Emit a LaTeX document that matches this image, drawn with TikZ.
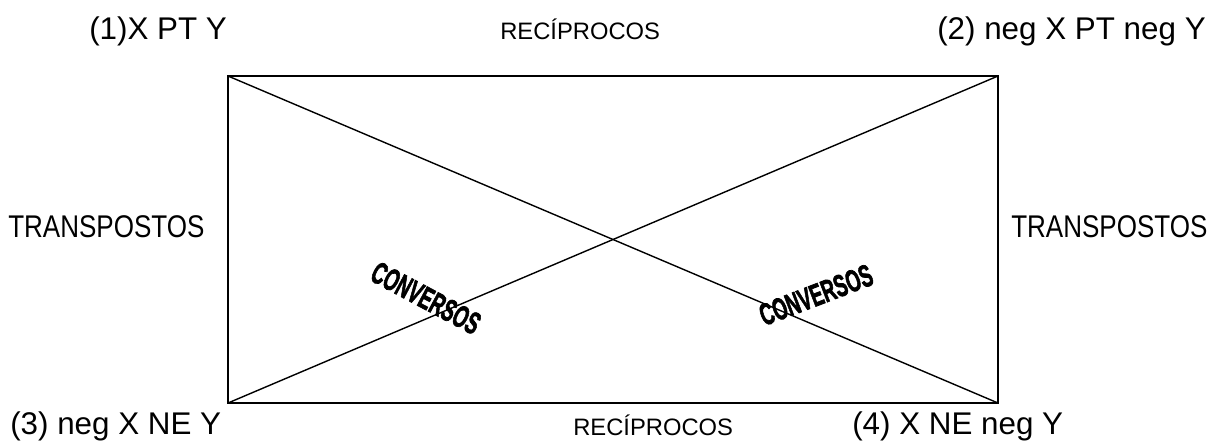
\documentclass[tikz,border=0pt]{standalone}
\usepackage{fontspec}
\setmainfont{Liberation Sans}
\newfontfamily\convfont[BoldFeatures={FakeBold=2.5}]{Liberation Sans}
\usepackage{tikz}
\usetikzlibrary{calc}
\tikzset{
  lbl/.style={anchor=base west, inner sep=0pt, font=\fontsize{22.3}{26}\selectfont},
  rec/.style={anchor=base west, inner sep=0pt, font=\fontsize{16.9}{20}\selectfont},
  conv/.style={inner sep=0pt, font=\fontsize{22}{24}\selectfont\convfont\bfseries},
  edg/.style={line width=1pt, black},
}

\begin{document}
\begin{tikzpicture}[x=0.025cm, y=-0.025cm]
  \useasboundingbox (0,0) rectangle (1225,442);
  % corners of the square
  \coordinate (p1) at (228,76);
  \coordinate (p2) at (998,76);
  \coordinate (p3) at (228,403);
  \coordinate (p4) at (998,403);
  \draw[edg] (p1) -- (p2) -- (p4) -- (p3) -- cycle;
  \draw[edg] (p1) -- (p4);
  \draw[edg] (p3) -- (p2);

  \node[lbl] (xpty) at (89,39) {(1)X PT Y};
  \node[lbl] (negpt) at (937,39) {(2) neg X PT neg Y};
  \node[lbl] (negne) at (10,434) {(3) neg X NE Y};
  \node[lbl] (xneneg) at (852,434) {(4) X NE neg Y};
  \node[rec] (rectop) at (500,39) {RECÍPROCOS};
  \node[rec] (recbot) at (573,435) {RECÍPROCOS};
  \node[lbl] (trleft) at (8,237) {\scalebox{0.83}[1]{TRANSPOSTOS}};
  \node[lbl] (trright) at (1011,237) {\scalebox{0.83}[1]{TRANSPOSTOS}};

  \node[conv, rotate=-28] (convl) at (426,298) {\scalebox{0.6}[1]{CONVERSOS}};
  \node[conv, rotate=21] (convr) at (816,295) {\scalebox{0.6}[1]{CONVERSOS}};
\end{tikzpicture}
\end{document}
